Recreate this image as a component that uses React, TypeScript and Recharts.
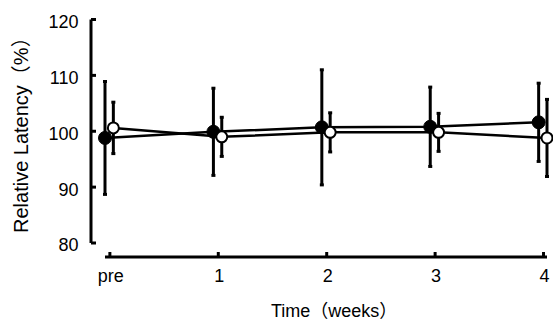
import React from 'react';
import { LineChart, Line, XAxis, YAxis, ErrorBar } from 'recharts';

const timeLabels = ['pre', '1', '2', '3', '4'];
const filledMeans = [98.8, 99.9, 100.7, 100.8, 101.6];
const filledErrors = [10.1, 7.8, 10.3, 7.1, 7.0];
const openMeans = [100.6, 99.0, 99.8, 99.8, 98.8];
const openErrors = [4.6, 3.5, 3.5, 3.4, 6.9];
const yTicks = [80, 90, 100, 110, 120];
const xTicks = timeLabels.map((_, i) => i);

const FILLED_SHIFT = -0.045;
const OPEN_SHIFT = 0.032;

const filledData = filledMeans.map((v, i) => ({ t: i + FILLED_SHIFT, v, e: filledErrors[i] }));
const openData = openMeans.map((v, i) => ({ t: i + OPEN_SHIFT, v, e: openErrors[i] }));

// axis offset (detached axes): x-axis 14px below the plot, y-axis 14px left of it
const AXIS_GAP = 14;

const css = `
.recharts-xAxis { transform: translate(0px, ${AXIS_GAP}px); }
.recharts-yAxis { transform: translate(-${AXIS_GAP}px, 0px); }
`;

const FONT = '"Liberation Sans", Arial, "Noto Sans CJK JP", sans-serif';

const XTick = (props: any) => {
  const { x, y, payload } = props;
  const ay = y + AXIS_GAP;
  return (
    <g>
      <line x1={x} x2={x} y1={ay} y2={ay - 5} stroke="#000" strokeWidth={3} />
      <text x={x + 1} y={ay + 24.5} textAnchor="middle" fontSize={18} fill="#000" fontFamily={FONT}>
        {timeLabels[payload.value]}
      </text>
    </g>
  );
};

const YTick = (props: any) => {
  const { x, y, payload } = props;
  const ax = x - AXIS_GAP;
  return (
    <g>
      <line x1={ax} x2={ax + 5} y1={y} y2={y} stroke="#000" strokeWidth={3} />
      <text x={ax - 12.5} y={y + 8.4} textAnchor="end" fontSize={18} fill="#000" fontFamily={FONT}>
        {payload.value}
      </text>
    </g>
  );
};

const XTitle = (props: any) => {
  const vb = props.viewBox || {};
  return (
    <text x={vb.x + 166} y={vb.y + 60} textAnchor="start" fontSize={18} fill="#000" fontFamily={FONT}>
      Time（weeks）
    </text>
  );
};

const YTitle = (props: any) => {
  const vb = props.viewBox || {};
  const cx = vb.x + 35;
  const cy = vb.y + vb.height - 10;
  return (
    <text
      x={cx}
      y={cy}
      transform={`rotate(-90, ${cx}, ${cy})`}
      textAnchor="start"
      dominantBaseline="central"
      fontSize={20}
      fill="#000"
      fontFamily={FONT}
    >
      Relative Latency（%）
    </text>
  );
};

export default function App() {
  return (
    <div style={{ position: 'absolute', left: 0, top: 0, width: 553, height: 322, background: '#fff' }}>
      <style>{css}</style>
      <LineChart
        width={553}
        height={322}
        margin={{ top: 19.5, right: 6, bottom: 0, left: 0 }}
        style={{ fontFamily: FONT }}
      >
        <XAxis
          dataKey="t"
          type="number"
          domain={[0, 4]}
          ticks={xTicks}
          interval={0}
          height={79}
          tickSize={0}
          tickMargin={0}
          axisLine={{ stroke: '#000', strokeWidth: 3 }}
          tickLine={false}
          tick={<XTick />}
          label={<XTitle />}
        />
        <YAxis
          type="number"
          domain={[80, 120]}
          ticks={yTicks}
          interval={0}
          width={105}
          tickSize={0}
          tickMargin={0}
          axisLine={{ stroke: '#000', strokeWidth: 3 }}
          tickLine={false}
          tick={<YTick />}
          label={<YTitle />}
        />
        <Line
          data={filledData}
          dataKey="v"
          stroke="#000"
          strokeWidth={2.5}
          isAnimationActive={false}
          dot={{ r: 6.5, fill: '#000', stroke: '#000', strokeWidth: 1 }}
        >
          <ErrorBar dataKey="e" direction="y" width={2} stroke="#000" strokeWidth={3} isAnimationActive={false} />
        </Line>
        <Line
          data={openData}
          dataKey="v"
          stroke="#000"
          strokeWidth={2.5}
          isAnimationActive={false}
          dot={{ r: 5.5, fill: '#fff', stroke: '#000', strokeWidth: 2 }}
        >
          <ErrorBar dataKey="e" direction="y" width={2} stroke="#000" strokeWidth={3} isAnimationActive={false} />
        </Line>
      </LineChart>
    </div>
  );
}
